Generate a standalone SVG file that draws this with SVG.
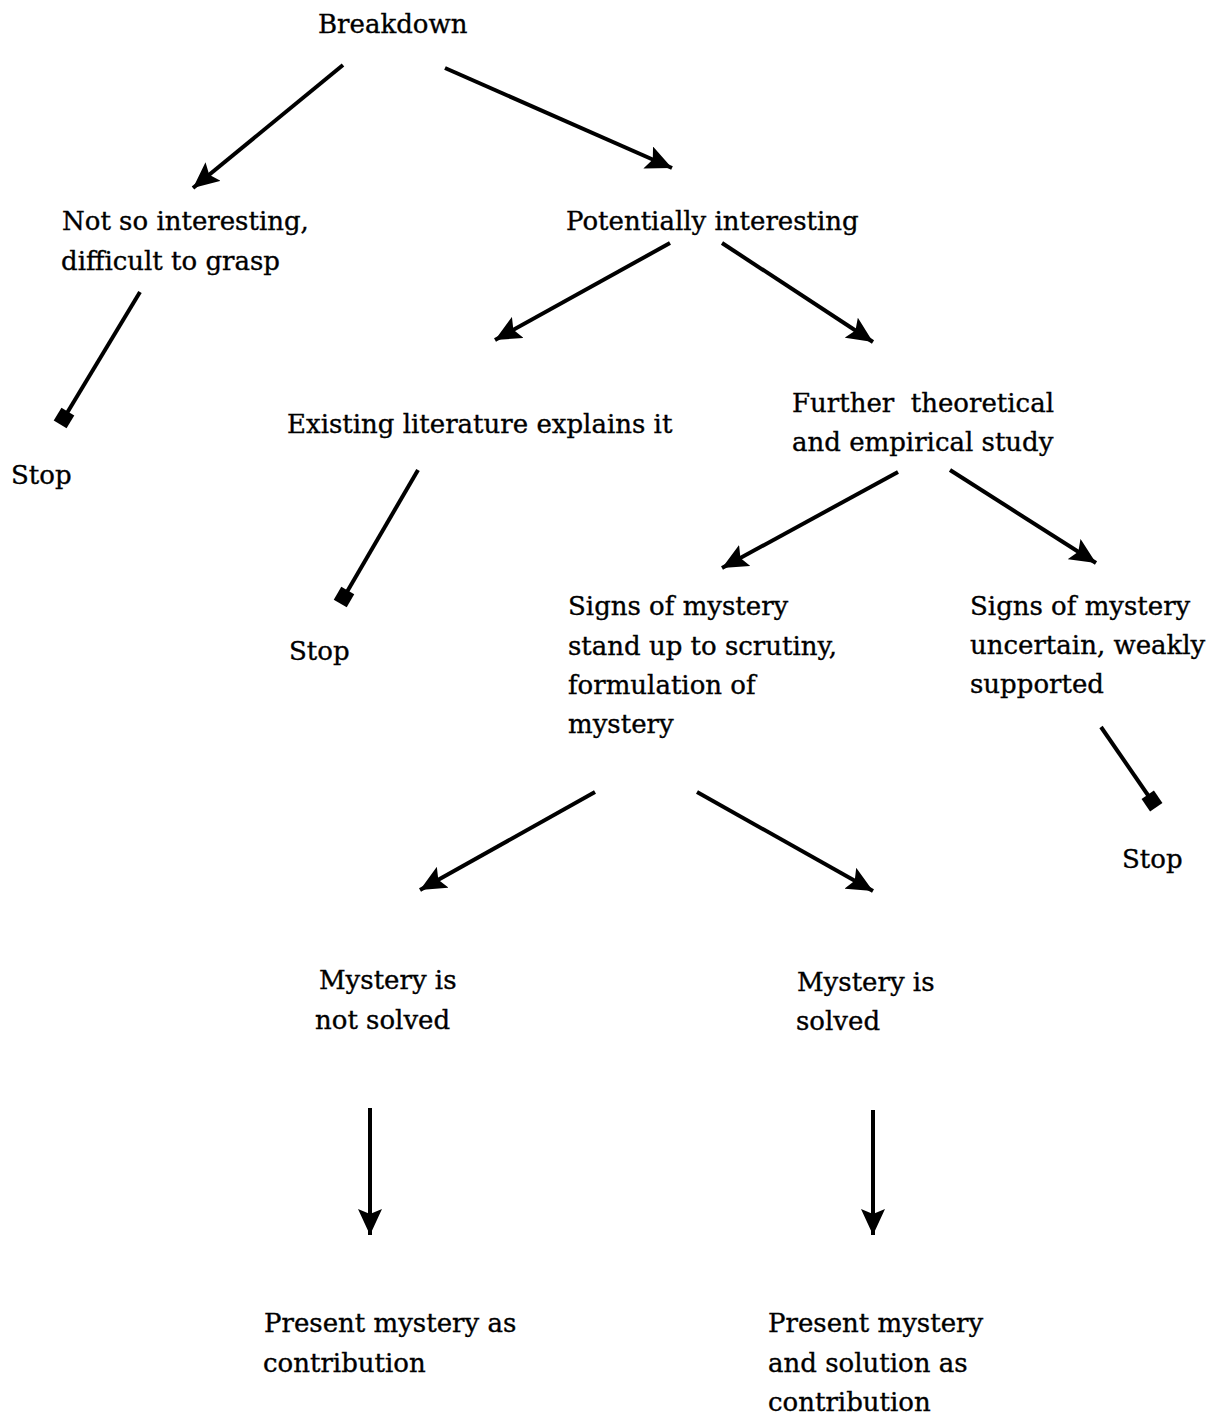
<svg xmlns="http://www.w3.org/2000/svg" width="1220" height="1416" viewBox="0 0 1220 1416">
<style>
text{font-family:"DejaVu Serif","Liberation Serif",serif;font-size:26px;fill:#000;stroke:#000;stroke-width:0.35}
.c line{stroke:#000;stroke-width:4;fill:none}
.a{marker-end:url(#arr)}
.s{marker-end:url(#sq)}
</style>
<defs>
<marker id="arr" markerUnits="userSpaceOnUse" markerWidth="28" markerHeight="24" refX="26" refY="12" orient="auto" viewBox="0 0 28 24">
<path d="M0,0 L26,12 L0,24 L5,12 Z" fill="#000"/>
</marker>
<marker id="sq" markerUnits="userSpaceOnUse" markerWidth="18" markerHeight="18" refX="9" refY="9" orient="auto" viewBox="0 0 18 18">
<rect x="1.5" y="1.5" width="15" height="15" fill="#000"/>
</marker>
</defs>
<rect width="1220" height="1416" fill="#fff"/>
<g id="connectors" class="c">
<line class="a" x1="343" y1="65" x2="193" y2="188"/>
<line class="a" x1="445" y1="68" x2="672" y2="168"/>
<line class="s" x1="140" y1="292" x2="64" y2="418"/>
<line class="a" x1="670" y1="243" x2="495" y2="340"/>
<line class="a" x1="722" y1="243" x2="873" y2="342"/>
<line class="s" x1="418" y1="470" x2="344" y2="597"/>
<line class="a" x1="898" y1="472" x2="722" y2="568"/>
<line class="a" x1="950" y1="470" x2="1096" y2="563"/>
<line class="a" x1="595" y1="792" x2="420" y2="890"/>
<line class="a" x1="697" y1="792" x2="873" y2="891"/>
<line class="s" x1="1101" y1="727" x2="1152" y2="801"/>
<line class="a" x1="370" y1="1108" x2="370" y2="1235"/>
<line class="a" x1="873" y1="1110" x2="873" y2="1235"/>
</g>
<g id="breakdown"><text x="318" y="33">Breakdown</text></g>
<g id="not-interesting"><text x="62" y="230">Not so interesting,</text><text x="61" y="270">difficult to grasp</text></g>
<g id="potentially"><text x="566" y="230">Potentially interesting</text></g>
<g id="stop1"><text x="11" y="484">Stop</text></g>
<g id="existing"><text x="287" y="433">Existing literature explains it</text></g>
<g id="further"><text x="792" y="412" xml:space="preserve">Further  theoretical</text><text x="792" y="451">and empirical study</text></g>
<g id="stop2"><text x="289" y="660">Stop</text></g>
<g id="signs-stand"><text x="568" y="615">Signs of mystery</text><text x="568" y="655">stand up to scrutiny,</text><text x="568" y="694">formulation of</text><text x="568" y="733">mystery</text></g>
<g id="signs-uncertain"><text x="970" y="615">Signs of mystery</text><text x="970" y="654">uncertain, weakly</text><text x="970" y="693">supported</text></g>
<g id="stop3"><text x="1122" y="868">Stop</text></g>
<g id="not-solved"><text x="319" y="989">Mystery is</text><text x="315" y="1029">not solved</text></g>
<g id="solved"><text x="797" y="991">Mystery is</text><text x="796" y="1030">solved</text></g>
<g id="present1"><text x="264" y="1332">Present mystery as</text><text x="263" y="1372">contribution</text></g>
<g id="present2"><text x="768" y="1332">Present mystery</text><text x="768" y="1372">and solution as</text><text x="768" y="1411">contribution</text></g>
</svg>
